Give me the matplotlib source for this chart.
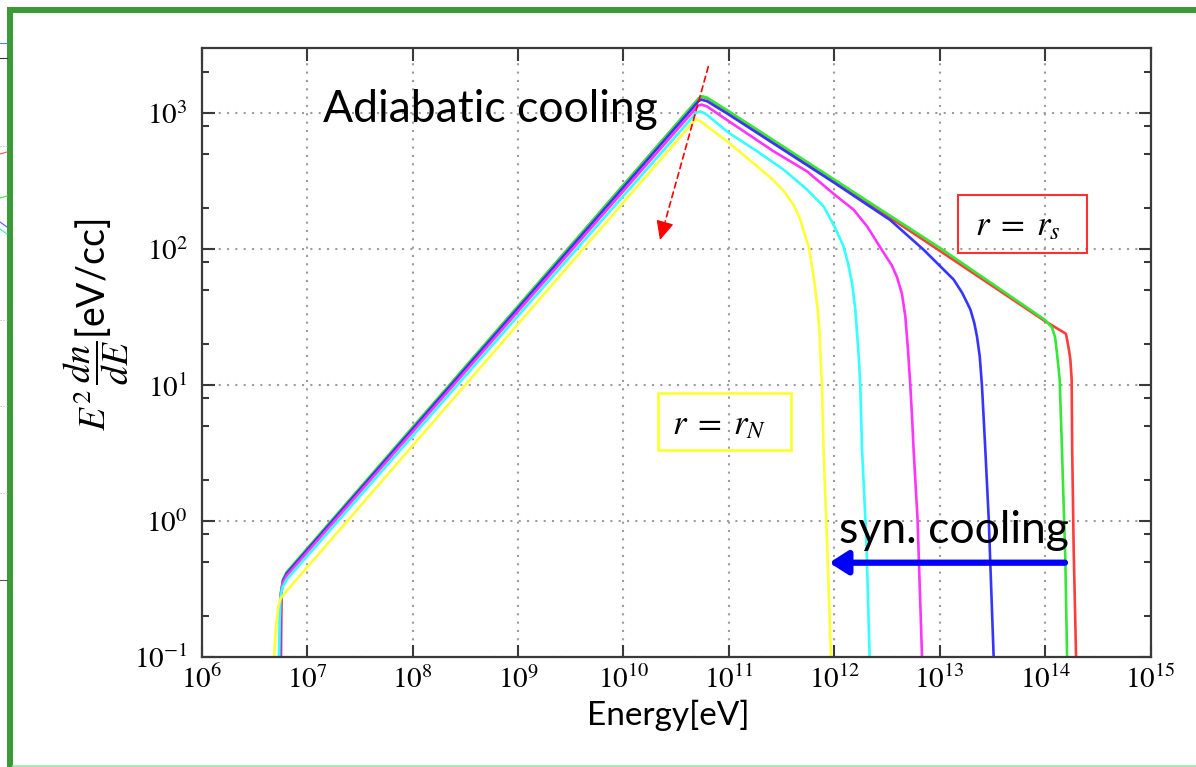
import numpy as np
import matplotlib.pyplot as plt
from matplotlib.patches import Rectangle
from matplotlib.lines import Line2D
from matplotlib.ticker import FixedLocator, NullLocator, NullFormatter

plt.rcParams['mathtext.fontset'] = 'stix'
plt.rcParams['font.family'] = ['Lato', 'DejaVu Sans']

# E^2 dn/dE [eV/cc] against energy [eV], read off at several radii
# red/green: near r_s ... yellow: r_N
red_E = [5.65e6, 5.72e6, 5.95e6, 6.5e6, 5.2e10, 5.6e10, 6.2e10, 1e11, 1e12, 1e13, 1e14,
         1.57e14, 1.61e14, 1.68e14, 1.73e14, 1.78e14, 1.80e14, 1.86e14, 1.96e14]
red_V = [0.1, 0.30, 0.37, 0.42, 1285, 1320, 1290, 1020, 318, 97, 29.4,
         23.8, 21.6, 18.0, 15.4, 11.0, 3.4, 0.62, 0.1]

green_E = [5.55e6, 5.65e6, 5.9e6, 6.4e6, 5.2e10, 5.55e10, 6.2e10, 1e11, 1e12, 1e13, 1.0e14,
           1.16e14, 1.24e14, 1.29e14, 1.37e14, 1.44e14, 1.55e14, 1.61e14]
green_V = [0.1, 0.30, 0.37, 0.42, 1290, 1330, 1300, 1030, 324, 102, 30,
           26.4, 22.4, 17.3, 11.0, 3.36, 0.52, 0.1]

blue_E = [5.55e6, 5.65e6, 5.9e6, 6.4e6, 5.2e10, 5.5e10, 6.2e10, 1e11, 1e12, 3.4e12, 7.0e12,
          1.35e13, 1.63e13, 1.95e13, 2.12e13, 2.25e13, 2.39e13, 2.51e13, 2.70e13, 2.91e13,
          3.24e13]
blue_V = [0.1, 0.29, 0.36, 0.41, 1235, 1256, 1225, 975, 307, 163, 99,
          59.7, 47.6, 35.9, 28.7, 22.8, 16.3, 9.9, 3.36, 1.03, 0.1]

magenta_E = [5.5e6, 5.6e6, 5.85e6, 6.4e6, 5.1e10, 5.5e10, 6.2e10, 1e11, 2.65e11, 5.5e11,
             1e12, 1.52e12, 2.04e12, 2.93e12, 3.5e12, 3.93e12, 4.37e12, 4.71e12, 4.99e12,
             5.25e12, 5.45e12, 5.64e12, 6.15e12, 6.78e12]
magenta_V = [0.1, 0.28, 0.345, 0.395, 1135, 1155, 1120, 871, 524, 373,
             252, 195, 147, 94, 76, 62, 47, 32, 18.2,
             9.9, 5.9, 3.36, 1.03, 0.1]

cyan_E = [5.4e6, 5.55e6, 5.8e6, 6.4e6, 4.9e10, 5.3e10, 6.0e10, 1e11, 1.85e11, 3.3e11, 5.5e11,
          7.9e11, 1e12, 1.22e12, 1.35e12, 1.47e12, 1.58e12, 1.64e12, 1.71e12, 1.76e12,
          1.83e12, 2.01e12, 2.16e12]
cyan_V = [0.1, 0.26, 0.32, 0.37, 1005, 1031, 990, 715, 524, 384, 274,
          206, 147, 105, 78, 56.5, 35.9, 24.2, 15.4, 9.9,
          3.36, 0.73, 0.1]

yellow_E = [4.87e6, 5.07e6, 5.33e6, 5.63e6, 6.4e6, 4.7e10, 4.97e10, 5.5e10, 1e11, 1.85e11,
            2.6e11, 3.3e11, 4.1e11, 4.75e11, 5.3e11, 5.69e11, 6.13e11, 6.45e11, 6.94e11,
            7.24e11, 7.4e11, 7.63e11, 7.9e11, 8.5e11, 9.3e11]
yellow_V = [0.1, 0.17, 0.236, 0.27, 0.305, 880, 896, 860, 604, 406,
            325, 268, 212, 165, 124, 105, 74.8, 58, 35.9,
            24.2, 15.4, 9.9, 3.36, 0.73, 0.1]

curves = [
    (red_E, red_V, '#ff3c3c'),
    (green_E, green_V, '#35e835'),
    (blue_E, blue_V, '#3535ff'),
    (magenta_E, magenta_V, '#ff35ff'),
    (cyan_E, cyan_V, '#35ffff'),
    (yellow_E, yellow_V, '#ffff35'),
]

# decades shown on each axis
x_exponents = [6, 7, 8, 9, 10, 11, 12, 13, 14, 15]
y_exponents = [-1, 0, 1, 2, 3]
y_minor = [m * 10.0 ** e for e in [-1, 0, 1, 2, 3] for m in (2, 5, 8) if m * 10.0 ** e < 3e3]

W, H = 1196, 767
fig = plt.figure(figsize=(W / 100, H / 100), dpi=100)

ax = fig.add_axes([201.7 / W, (H - 656.7) / H, 949 / W, 608.4 / H])
for E, V, c in curves:
    ax.plot(E, V, color=c, lw=1.9, solid_joinstyle='round')

ax.set_xscale('log')
ax.set_yscale('log')
ax.set_xlim(1e6, 1e15)
ax.set_ylim(1e-1, 3e3)

ax.set_xticks([10.0 ** e for e in x_exponents],
              [r'$10^{%d}$' % e for e in x_exponents])
ax.set_yticks([10.0 ** e for e in y_exponents],
              [r'$10^{%d}$' % e for e in y_exponents])
ax.xaxis.set_minor_locator(NullLocator())
ax.yaxis.set_minor_locator(FixedLocator(y_minor))
ax.xaxis.set_minor_formatter(NullFormatter())
ax.yaxis.set_minor_formatter(NullFormatter())

ax.tick_params(which='both', direction='in', top=True, right=True,
               color='#3a3a3a', labelsize=21)
ax.tick_params(which='major', length=9, width=1.5)
ax.tick_params(which='minor', length=5, width=1.5)
ax.tick_params(axis='y', pad=10)
ax.tick_params(axis='x', pad=6)
for s in ax.spines.values():
    s.set_color('#3a3a3a')
    s.set_linewidth(1.6)

ax.grid(True, which='major', color='#9c9c9c', linestyle=(0, (1, 3)), lw=1.5)
ax.set_axisbelow(True)

ax.set_xlabel('Energy[eV]', fontsize=24)
ax.xaxis.set_label_coords((668 - 201.7) / 949, -(715 - 656.7) / 608.4)
ax.xaxis.label.set_va('center')
ax.set_ylabel(r'$E^2\,\dfrac{dn}{dE}$[eV/cc]', fontsize=27)
ax.yaxis.set_label_coords((96 - 201.7) / 949, (656.7 - 325) / 608.4)
ax.yaxis.label.set_va('center')

# annotations
fig.text(323 / W, 1 - 122 / H, 'Adiabatic cooling', fontsize=32, va='baseline')
fig.text(839 / W, 1 - 543 / H, 'syn. cooling', fontsize=32, va='baseline')

# dashed shaft, then a solid head on the last bit
ax.annotate('', xy=(0.4886, 0.7166), xytext=(0.5338, 0.9698), xycoords='axes fraction',
            arrowprops=dict(arrowstyle='-', color='red', lw=1.2,
                            linestyle=(0, (3.5, 2.5)), shrinkA=0, shrinkB=0))
ax.annotate('', xy=(0.4829, 0.6849), xytext=(0.4886, 0.7166), xycoords='axes fraction',
            arrowprops=dict(arrowstyle='-|>,head_length=0.9,head_width=0.42', color='red',
                            lw=1.0, mutation_scale=13, shrinkA=0, shrinkB=0))
ax.annotate('', xy=(0.6613, 0.1545), xytext=(0.9097, 0.1545), xycoords='axes fraction',
            arrowprops=dict(arrowstyle='-|>,head_length=0.55,head_width=0.35', color='blue',
                            lw=4.5, mutation_scale=20, shrinkA=0, shrinkB=0))

# radius boxes
fig.add_artist(Rectangle((958.3 / W, 1 - 252.7 / H), 128.4 / W, 57.7 / H,
                         transform=fig.transFigure, fill=False, ec='#ff3030', lw=1.5))
fig.text(1017.5 / W, 1 - 226 / H, r'$r\;=\;r_s$', fontsize=25, ha='center', va='center')
fig.add_artist(Rectangle((658.3 / W, 1 - 450 / H), 132.4 / W, 57.3 / H,
                         transform=fig.transFigure, fill=False, ec='#ffff20', lw=1.8))
fig.text(719 / W, 1 - 425 / H, r'$r\;=\;r_N$', fontsize=25, ha='center', va='center')

# slide frame
green = '#3a9a36'
fig.add_artist(Line2D([10.3 / W, 10.3 / W], [0, 1 - 7.3 / H], transform=fig.transFigure,
                      color=green, lw=4.3, solid_capstyle='butt'))
fig.add_artist(Line2D([7.3 / W, 1], [1 - 10.3 / H, 1 - 10.3 / H], transform=fig.transFigure,
                      color=green, lw=4.3, solid_capstyle='butt'))
fig.add_artist(Line2D([13 / W, 1], [1 - 765.5 / H, 1 - 765.5 / H], transform=fig.transFigure,
                      color='#a9dca9', lw=1.2))

# edge of the neighbouring plot peeking out on the left
for y0, y1, c, ls in [(43, 43, '#4a86e8', '-'), (58, 58, '#333333', '-'),
                      (146, 146, '#aaaaaa', ':'), (154, 152, '#ff5050', '-'),
                      (198, 196, '#40e040', '-'), (222, 227, '#5050ff', '-'),
                      (229, 234, '#40e0e0', '-'), (320, 320, '#bbbbbb', ':'),
                      (406, 406, '#bbbbbb', ':'), (493, 493, '#bbbbbb', ':'),
                      (580, 580, '#555555', '-')]:
    fig.add_artist(Line2D([0, 7 / W], [1 - y0 / H, 1 - y1 / H], transform=fig.transFigure,
                          color=c, lw=0.8, linestyle=ls))

fig.savefig('out.png', dpi=100, facecolor='white')
